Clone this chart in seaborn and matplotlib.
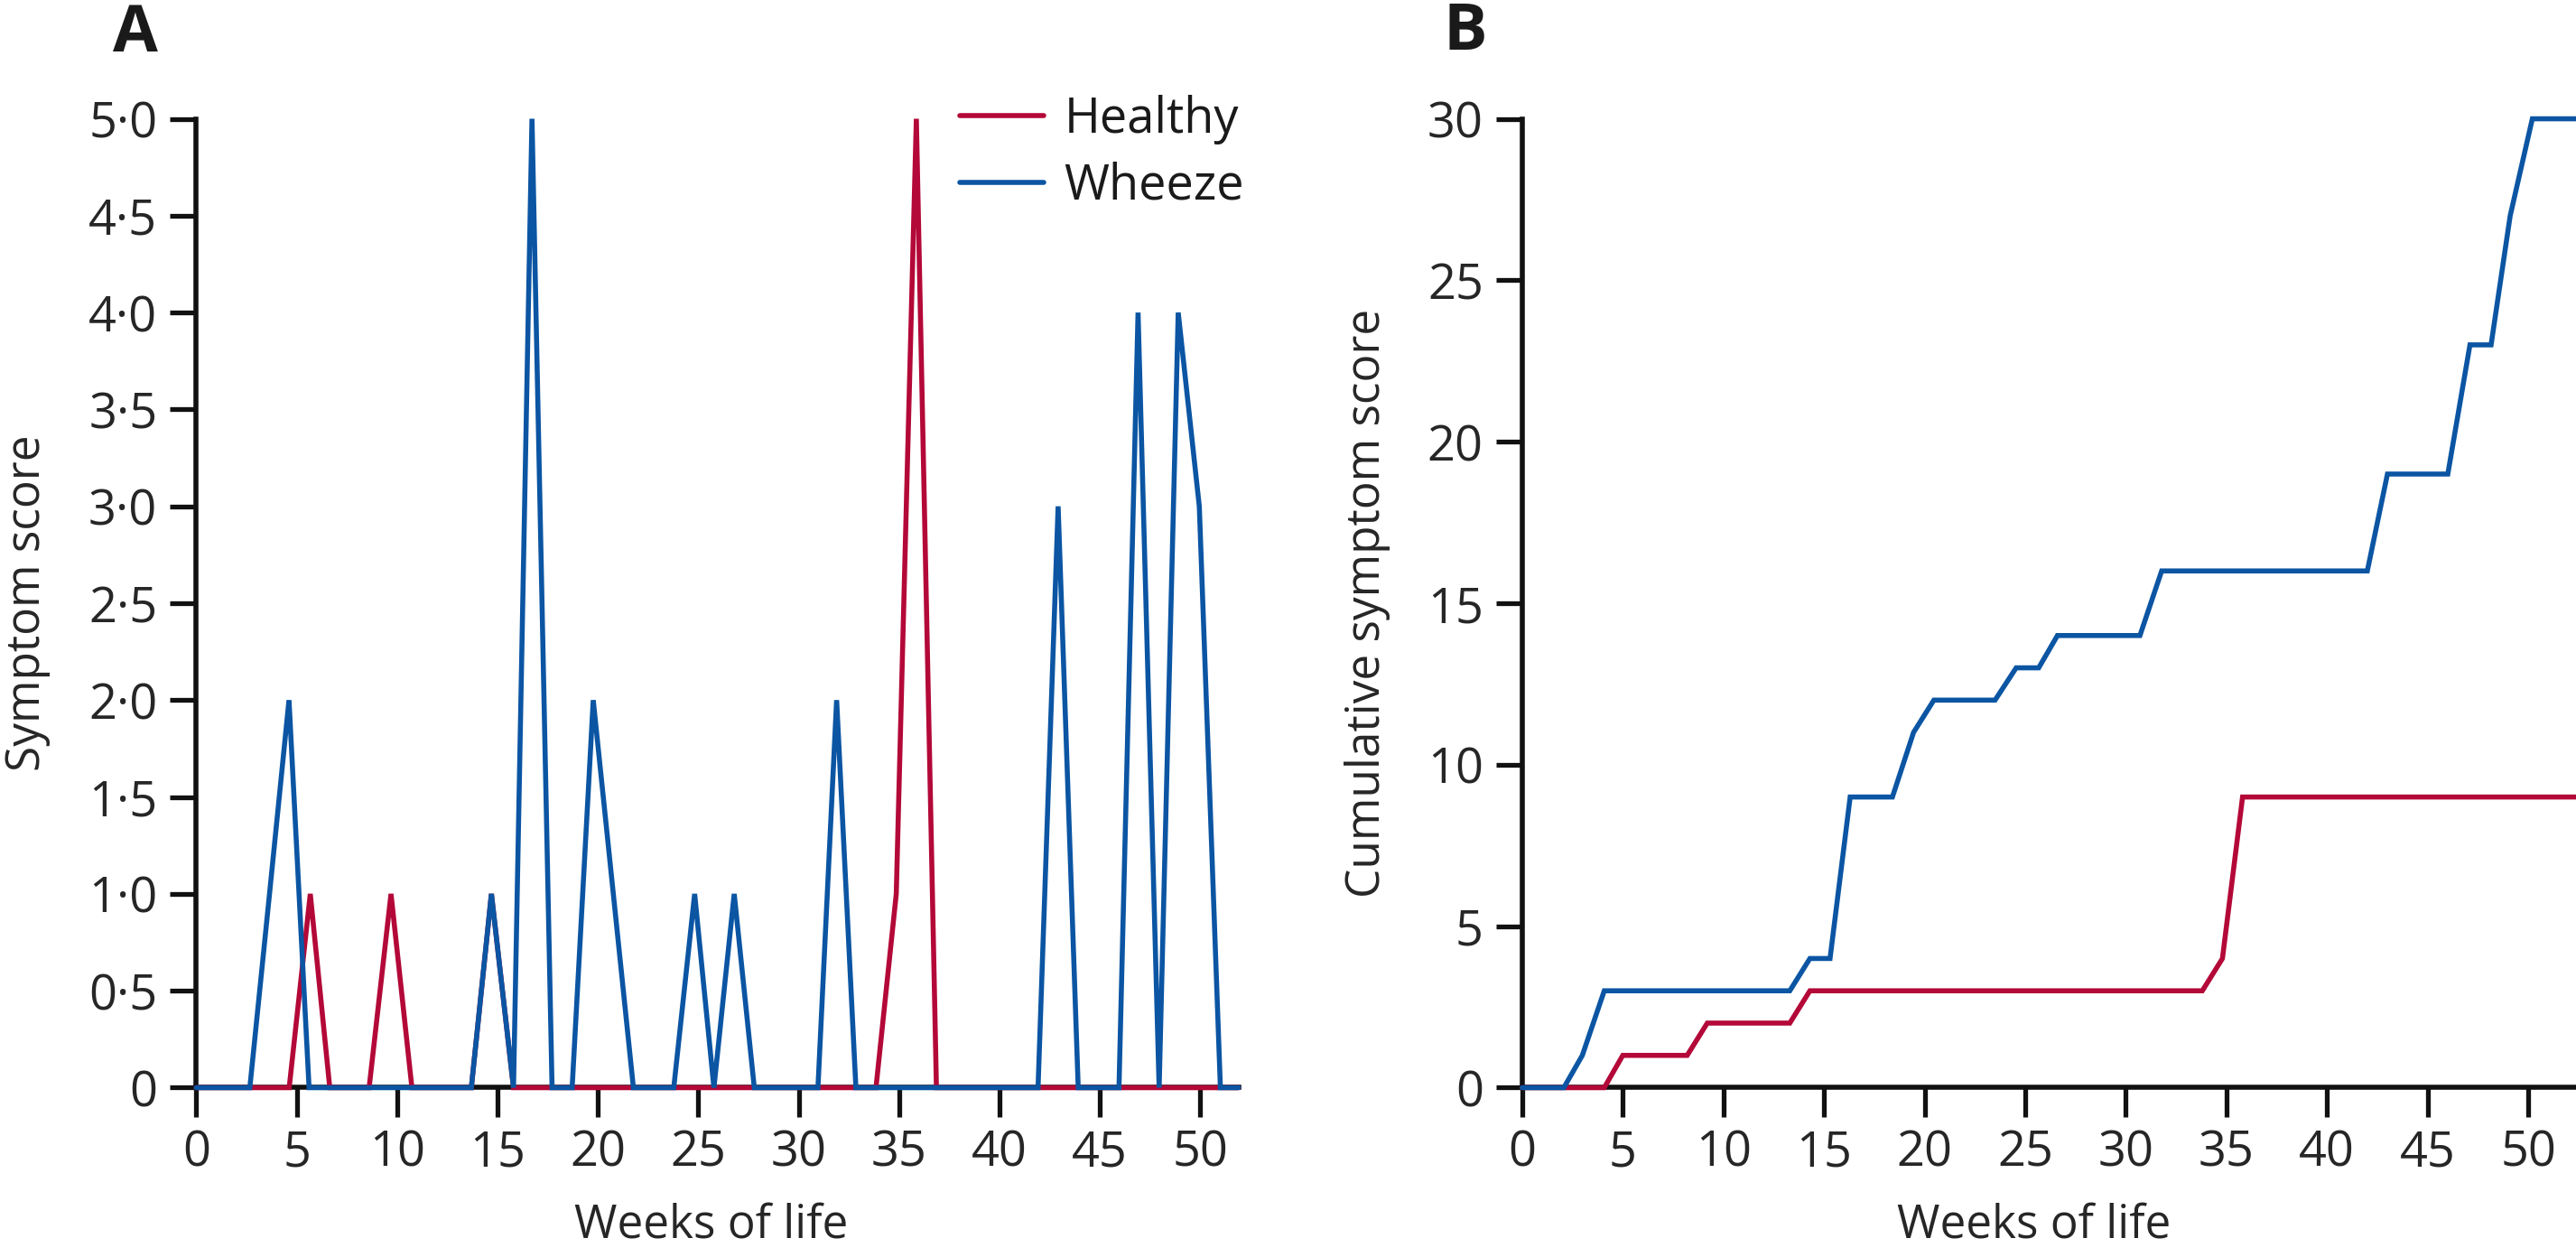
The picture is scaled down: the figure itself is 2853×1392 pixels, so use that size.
import numpy as np
import pandas as pd
import matplotlib
matplotlib.use("Agg")
import matplotlib.pyplot as plt
from matplotlib.lines import Line2D
import seaborn as sns

# ---------------- data ----------------
groups = ["Healthy", "Wheeze"]
colors = {"Healthy": "#B30838", "Wheeze": "#0B55A3"}

# Panel A: weekly symptom score (vertices of the line)
a_healthy_week = [0, 4.63, 5.68, 6.65, 8.61, 9.70, 10.74, 13.7, 14.7, 15.8,
                  33.85, 34.86, 35.86, 36.86, 51.9]
a_healthy_score = [0, 0, 1, 0, 0, 1, 0, 0, 1, 0, 0, 1, 5, 0, 0]

a_wheeze_week = [0, 2.67, 3.65, 4.62, 5.62, 13.7, 14.7, 15.8, 16.72, 17.72,
                 18.72, 19.77, 20.77, 21.77, 23.78, 24.82, 25.78, 26.79, 27.79,
                 30.96, 31.89, 32.85, 41.92, 42.92, 43.92, 45.95, 46.9, 47.95,
                 48.9, 49.95, 51.0, 51.9]
a_wheeze_score = [0, 0, 1, 2, 0, 0, 1, 0, 5, 0, 0, 2, 1, 0, 0, 1, 0, 1, 0,
                  0, 2, 0, 0, 3, 0, 0, 4, 0, 4, 3, 0, 0]

# Panel B: cumulative symptom score
b_healthy_week = [0, 4.08, 5.0, 8.2, 9.2, 13.3, 14.3, 33.8, 34.8, 35.8, 53]
b_healthy_cum = [0, 0, 1, 1, 2, 2, 3, 3, 4, 9, 9]

b_wheeze_week = [0, 2.07, 2.99, 4.08, 13.3, 14.3, 15.3, 16.3, 18.4, 19.45,
                 20.46, 23.5, 24.55, 25.67, 26.6, 30.7, 31.78, 42.0, 43.0,
                 46.0, 47.1, 48.15, 49.1, 50.2, 53]
b_wheeze_cum = [0, 0, 1, 3, 3, 4, 4, 9, 9, 11, 12, 12, 13, 13, 14, 14, 16,
                16, 19, 19, 23, 23, 27, 30, 30]

x_ticks = [0, 5, 10, 15, 20, 25, 30, 35, 40, 45, 50]
a_y_ticks = [0, 0.5, 1.0, 1.5, 2.0, 2.5, 3.0, 3.5, 4.0, 4.5, 5.0]
a_y_ticklabels = ["0", "0·5", "1·0", "1·5", "2·0", "2·5", "3·0", "3·5",
                  "4·0", "4·5", "5·0"]
b_y_ticks = [0, 5, 10, 15, 20, 25, 30]

# ---------------- style ----------------
sns.set_style("ticks")
plt.rcParams["font.family"] = ["Open Sans", "DejaVu Sans"]
plt.rcParams["text.color"] = "#1a1a1a"

DPI = 100
fig = plt.figure(figsize=(2853 / DPI, 1392 / DPI), dpi=DPI)

ax_a = fig.add_axes([0.07617, 0.1347, 0.4046, 0.7708])
ax_b = fig.add_axes([0.5909, 0.1347, 0.4091, 0.7708])

df_a = pd.concat([
    pd.DataFrame({"week": a_healthy_week, "score": a_healthy_score, "group": "Healthy"}),
    pd.DataFrame({"week": a_wheeze_week, "score": a_wheeze_score, "group": "Wheeze"}),
], ignore_index=True)
df_b = pd.concat([
    pd.DataFrame({"week": b_healthy_week, "score": b_healthy_cum, "group": "Healthy"}),
    pd.DataFrame({"week": b_wheeze_week, "score": b_wheeze_cum, "group": "Wheeze"}),
], ignore_index=True)

LW = 4.0
for ax, df in [(ax_a, df_a), (ax_b, df_b)]:
    sns.lineplot(data=df, x="week", y="score", hue="group", hue_order=groups,
                 palette=colors, estimator=None, sort=False, linewidth=LW,
                 legend=False, ax=ax)
    for ln in ax.lines:
        ln.set_clip_on(False)
        ln.set_zorder(3)
        ln.set_solid_joinstyle("miter")

# Axes formatting
TICK_FS = 39
LABEL_FS = 37
for ax in (ax_a, ax_b):
    sns.despine(ax=ax)
    for s in ("left", "bottom"):
        ax.spines[s].set_linewidth(4.0)
        ax.spines[s].set_color("#111111")
    ax.set_xticks(x_ticks)
    ax.tick_params(axis="x", direction="out", length=23.5, width=3.8,
                   pad=9, labelsize=TICK_FS, color="#111111")
    ax.tick_params(axis="y", direction="out", length=21, width=3.8,
                   pad=10, labelsize=TICK_FS, color="#111111")
    ax.set_xlabel("Weeks of life", fontsize=LABEL_FS)

ax_a.set_xlim(0, 51.9)
ax_a.set_ylim(0, 5)
ax_a.set_yticks(a_y_ticks)
ax_a.set_yticklabels(a_y_ticklabels)
ax_a.set_ylabel("Symptom score", fontsize=LABEL_FS)

ax_b.set_xlim(0, 52.37)
ax_b.set_ylim(0, 30)
ax_b.set_yticks(b_y_ticks)
ax_b.set_ylabel("Cumulative symptom score", fontsize=LABEL_FS)

# label positions
ax_a.xaxis.set_label_coords(0.494, -0.118)
ax_b.xaxis.set_label_coords(0.486, -0.118)
ax_a.yaxis.set_label_coords(-0.1397, 0.5)
ax_b.yaxis.set_label_coords(-0.1248, 0.5)

# Legend
handles = [Line2D([], [], color=colors[g], linewidth=LW) for g in groups]
fig.legend(handles, groups, loc="upper left",
           bbox_to_anchor=(1062.7 / 2853, 1 - 105 / 1392),
           bbox_transform=fig.transFigure, frameon=False, fontsize=39,
           handlelength=1.72, handletextpad=0.42, labelspacing=0.35,
           borderpad=0, borderaxespad=0)

# Panel letters
fig.text(150 / 2853, 1 - 57 / 1392, "A", fontsize=52, fontweight="bold",
         ha="center", va="baseline")
fig.text(1623 / 2853, 1 - 55 / 1392, "B", fontsize=52, fontweight="bold",
         ha="center", va="baseline")

fig.savefig("out.png", dpi=DPI)
